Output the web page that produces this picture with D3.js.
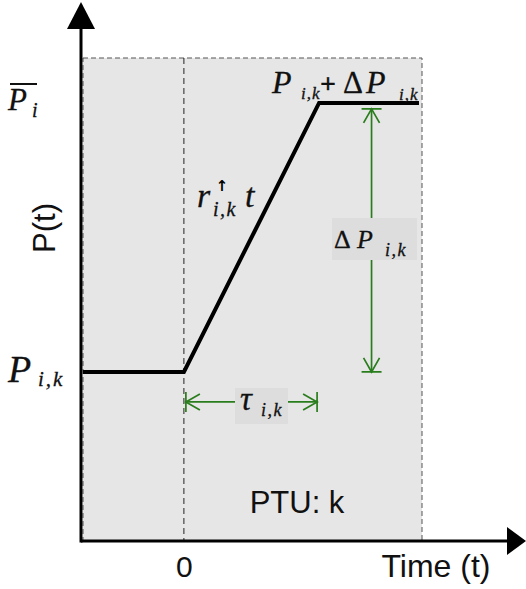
<!DOCTYPE html>
<html>
<head>
<meta charset="utf-8">
<script src="https://cdn.jsdelivr.net/npm/d3@7/dist/d3.min.js"></script>
<style>
  body { margin: 0; background: #fff; }
  .math { font-family: "Liberation Serif", "DejaVu Serif", serif; font-style: italic; fill: #111; stroke: #111; stroke-width: 0.3px; }
  .up { font-style: normal; }
  .sans { font-family: "Liberation Sans", Arial, sans-serif; fill: #111; }
</style>
</head>
<body>
<script>
// Ramp profile within one PTU (time in arbitrary units, power normalised)
var timePoints  = [-1, 0, 1.34, 2.33];
var powerValues = [0.35, 0.35, 0.907, 0.907];
var ptuSpan     = [-1, 2.36];   // shaded PTU box
var powerSpan   = [0, 1];
var tickValues  = [0];
var tickLabels  = ["0"];
var deltaAt     = 1.86;         // time where the ΔP dimension sits
var tauLevel    = 0.288;        // power level of the τ dimension

window.onload = function(){

    var w = 526, h = 589;
    var green = "#2a7d1c";

    var svg = d3.select("body").append("svg")
        .attr("width", w)
        .attr("height", h);

    var x = d3.scaleLinear().domain(ptuSpan).range([83, 422]);
    var y = d3.scaleLinear().domain(powerSpan).range([541, 58]);

    // arrow markers for the dimension lines (tip + bar at the end point)
    var defs = svg.append("defs");
    defs.append("marker")
        .attr("id", "dim")
        .attr("viewBox", "-17 -11 18 22")
        .attr("refX", 0).attr("refY", 0)
        .attr("markerWidth", 18).attr("markerHeight", 22)
        .attr("markerUnits", "userSpaceOnUse")
        .attr("orient", "auto-start-reverse")
        .append("path")
        .attr("d", "M-15,-8 L-1,0 L-15,8 M-1,-10 L-1,10")
        .attr("fill", "none")
        .attr("stroke", green)
        .attr("stroke-width", 1.7);

    // PTU box
    svg.append("rect")
        .attr("x", x(ptuSpan[0]))
        .attr("y", y(powerSpan[1]))
        .attr("width", x(ptuSpan[1]) - x(ptuSpan[0]))
        .attr("height", y(powerSpan[0]) - y(powerSpan[1]))
        .style("fill", "#e6e6e6")
        .style("stroke", "#555")
        .style("stroke-width", 1)
        .style("stroke-dasharray", "5,3");

    // t = 0 marker
    svg.append("line")
        .attr("x1", x(0)).attr("x2", x(0))
        .attr("y1", y(powerSpan[1])).attr("y2", y(0))
        .style("stroke", "#222")
        .style("stroke-dasharray", "6,4");

    // ramp
    var line = d3.line()
        .x(function(d){ return x(d[0]); })
        .y(function(d){ return y(d[1]); });

    svg.append("path")
        .datum(d3.zip(timePoints, powerValues))
        .attr("d", line)
        .style("fill", "none")
        .style("stroke", "#000")
        .style("stroke-width", 4);

    // ΔP dimension
    var dx = x(deltaAt);
    svg.append("line")
        .attr("x1", dx).attr("x2", dx)
        .attr("y1", y(powerValues[2]) + 5)
        .attr("y2", y(powerValues[0]) + 1)
        .attr("marker-start", "url(#dim)")
        .attr("marker-end", "url(#dim)")
        .style("stroke", green)
        .style("stroke-width", 1.7);

    svg.append("rect")
        .attr("x", 332).attr("y", 218)
        .attr("width", 85).attr("height", 42)
        .style("fill", "#dddddd");

    var dp = svg.append("text").attr("class", "math");
    dp.append("tspan").attr("class", "up").attr("x", 334).attr("y", 248).style("font-size", "26px").text("Δ");
    dp.append("tspan").attr("x", 357).attr("y", 248).style("font-size", "26px").text("P");
    dp.append("tspan").attr("x", 385).attr("y", 256).style("font-size", "18px").style("letter-spacing", "1.5px").text("i,k");

    // τ dimension
    var ty = y(tauLevel);
    svg.append("line")
        .attr("x1", x(0) + 1).attr("x2", x(timePoints[2]) - 1)
        .attr("y1", ty).attr("y2", ty)
        .attr("marker-start", "url(#dim)")
        .attr("marker-end", "url(#dim)")
        .style("stroke", green)
        .style("stroke-width", 1.7);

    svg.append("rect")
        .attr("x", 235).attr("y", 388)
        .attr("width", 53).attr("height", 36)
        .style("fill", "#dddddd");

    var tau = svg.append("text").attr("class", "math");
    tau.append("tspan").attr("x", 240).attr("y", 410).style("font-size", "33px").text("τ");
    tau.append("tspan").attr("x", 261).attr("y", 416).style("font-size", "18px").style("letter-spacing", "1.5px").text("i,k");

    // axes
    svg.append("line")
        .attr("x1", 81).attr("x2", 81)
        .attr("y1", y(0) + 1.5).attr("y2", 28)
        .style("stroke", "#000").style("stroke-width", 3);
    svg.append("path")
        .attr("d", "M81,2 L67,29 L95,29 Z")
        .style("fill", "#000");

    svg.append("line")
        .attr("x1", 81).attr("x2", 509)
        .attr("y1", y(0)).attr("y2", y(0))
        .style("stroke", "#000").style("stroke-width", 3);
    svg.append("path")
        .attr("d", "M526," + y(0) + " L507," + (y(0) - 14) + " L507," + (y(0) + 14) + " Z")
        .style("fill", "#000");

    var xAxis = d3.axisBottom(x)
        .tickValues(tickValues)
        .tickFormat(function(d, i){ return tickLabels[i]; })
        .tickSize(0)
        .tickPadding(15);

    var gx = svg.append("g")
        .attr("transform", "translate(0," + y(0) + ")")
        .call(xAxis);
    gx.select(".domain").remove();
    gx.selectAll("text")
        .attr("class", "sans")
        .style("font-size", "30px")
        .style("font-family", "'Liberation Sans', Arial, sans-serif")
        .style("fill", "#111");

    svg.append("text")
        .attr("class", "sans")
        .attr("x", 436).attr("y", 577)
        .attr("text-anchor", "middle")
        .style("font-size", "32px")
        .text("Time (t)");

    svg.append("text")
        .attr("class", "sans")
        .attr("transform", "translate(55,228) rotate(-90)")
        .attr("text-anchor", "middle")
        .style("font-size", "31px")
        .text("P(t)");

    svg.append("text")
        .attr("class", "sans")
        .attr("x", 297).attr("y", 513)
        .attr("text-anchor", "middle")
        .style("font-size", "31px")
        .text("PTU: k");

    // left level labels
    var pbar = svg.append("text").attr("class", "math");
    pbar.append("tspan").attr("x", 8).attr("y", y(powerValues[2]) + 7).style("font-size", "31px").text("P");
    pbar.append("tspan").attr("x", 32).attr("y", y(powerValues[2]) + 14).style("font-size", "20px").text("i");
    svg.append("line")
        .attr("x1", 10).attr("x2", 37)
        .attr("y1", 84).attr("y2", 84)
        .style("stroke", "#111").style("stroke-width", 2);

    var pik = svg.append("text").attr("class", "math");
    pik.append("tspan").attr("x", 8).attr("y", y(powerValues[0]) + 10).style("font-size", "38px").text("P");
    pik.append("tspan").attr("x", 38).attr("y", y(powerValues[0]) + 14).style("font-size", "21px").style("letter-spacing", "2px").text("i,k");

    // top label
    var top = svg.append("text").attr("class", "math");
    top.append("tspan").attr("x", 272).attr("y", 93).style("font-size", "32px").text("P");
    top.append("tspan").attr("x", 301).attr("y", 99).style("font-size", "17px").style("letter-spacing", "1px").text("i,k");
    top.append("tspan").attr("class", "up").attr("x", 320).attr("y", 93).style("font-size", "28px").style("font-weight", "bold").text("+");
    top.append("tspan").attr("class", "up").attr("x", 343).attr("y", 93).style("font-size", "31px").text("Δ");
    top.append("tspan").attr("x", 366).attr("y", 93).style("font-size", "32px").text("P");
    top.append("tspan").attr("x", 399).attr("y", 100).style("font-size", "17px").style("letter-spacing", "1px").text("i,k");

    // ramp-rate label
    var r = svg.append("text").attr("class", "math");
    r.append("tspan").attr("x", 197).attr("y", 207).style("font-size", "34px").text("r");
    r.append("tspan").attr("x", 213).attr("y", 216).style("font-size", "20px").style("letter-spacing", "1.5px").text("i,k");
    r.append("tspan").attr("x", 245).attr("y", 207).style("font-size", "34px").text("t");
    svg.append("text")
        .attr("x", 222).attr("y", 191)
        .attr("text-anchor", "middle")
        .style("font-family", "DejaVu Sans")
        .style("font-weight", "bold")
        .style("font-size", "15px")
        .text("↑");
};
</script>
</body>
</html>
